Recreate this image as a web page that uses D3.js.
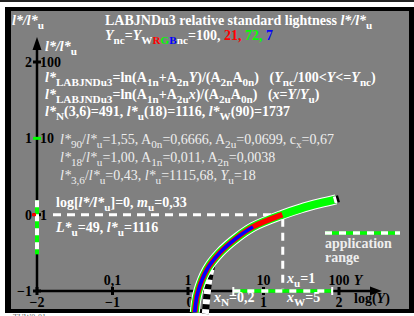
<!DOCTYPE html>
<html>
<head>
<meta charset="utf-8">
<script src="https://cdn.jsdelivr.net/npm/d3@7"></script>
<style>
  body { margin: 0; background: #fff; }
  svg { display: block; }
  text { font-family: "Liberation Serif", "Times New Roman", serif; white-space: pre; }
</style>
</head>
<body>
<svg id="chart" width="414" height="316"></svg>
<script>
// tick values (log units) and their labels
const xLogTicks = [-2, -1, 0, 1, 2];
const xLogLabels = ["\u22122", "\u22121", "0", "1", "2"];
const xLinTicks = [-1, 0, 1, 2];
const xLinLabels = ["0,1", "1", "10", "100"];
const yLogTicks = [2, 1, 0, -1];
const yLogLabels = ["2", "1", "0", "\u22121"];
const yLinTicks = [2, 1, 0];
const yLinLabels = ["100", "10", "1"];

// curve: [log(Y), log(l*/l*u)]
const curve = [[0.09, -1.28], [0.13, -1.02], [0.25, -0.72], [0.42, -0.5], [0.65, -0.3],
  [0.86, -0.16], [1.25, 0.0], [1.49, 0.08], [1.75, 0.15], [1.96, 0.2]];
const curveN = [[0.33, -0.59], [0.27, -0.9], [0.23, -1.3]];   // black/white dashed, low part
const curveTop = [[1.93, 0.19], [2.0, 0.21]];                  // black/white end
const blueEnd = 0.86, redEnd = 1.28;

const appRangeX = [0.6, 1.91];     // application range on log(Y)
const appRangeY = [0.19, -0.52];   // on log(l*/l*u)
const refPoint = [1.255, 0];       // Yu = 18, log[l*/l*u] = 0

const svg = d3.select("#chart");
const x = d3.scaleLinear().domain([-2, 2]).range([37, 339]);
const y = d3.scaleLinear().domain([-1, 2]).range([291, 62]);

// frame
svg.append("rect").attr("x", 0).attr("y", 0).attr("width", 414).attr("height", 2).attr("fill", "#222");
svg.append("rect").attr("x", 5).attr("y", 7).attr("width", 409).attr("height", 306).attr("fill", "#000");
svg.append("rect").attr("x", 11).attr("y", 11).attr("width", 398).attr("height", 298).attr("fill", "#808080");
svg.append("text").attr("x", 13).attr("y", 320).attr("font-size", 8).attr("fill", "#666").text("TUW0-01");

// text with sub-scripts: segs = [text, style("i","s"), colour]
function rich(x0, y0, segs, size, bold, fill) {
  const t = svg.append("text").attr("x", x0).attr("y", y0)
    .attr("font-size", size).attr("font-weight", bold ? "bold" : "normal")
    .attr("fill", fill || "#fff");
  let shift = 0;
  segs.forEach(([s, st = "", col]) => {
    const sub = st.includes("s");
    const target = sub ? size * 0.3 : 0;
    const ts = t.append("tspan").text(s).attr("dy", target - shift);
    shift = target;
    if (sub) ts.attr("font-size", size * 0.8);
    if (st.includes("i")) ts.attr("font-style", "italic");
    if (col) ts.attr("fill", col);
  });
  return t;
}

// titles and formulas
rich(12, 25, [["l*/l*", "i"], ["u", "s"]], 14, true);
rich(105, 25, [["LABJNDu3 relative standard lightness "], ["l*/l*", "i"], ["u", "s"]], 14, true);
rich(105, 40, [["Y", "i"], ["nc", "s"], ["="], ["Y", "i"], ["W", "s"], ["R", "s", "#f00"], ["G", "s", "#0f0"],
  ["B", "s", "#00f"], ["nc", "s"], ["=100, "], ["21, ", "", "#f00"], ["72, ", "", "#0f0"], ["7", "", "#00f"]], 14, true);
rich(45, 51, [["l*/l*", "i"], ["u", "s"]], 14, true);

rich(45, 82, [["l*", "i"], ["LABJNDu3", "s"], ["=ln(A"], ["1n", "s"], ["+A"], ["2n", "s"], ["Y", "i"], [")/(A"],
  ["2n", "s"], ["A"], ["0n", "s"], [")   ("], ["Y", "i"], ["nc", "s"], ["/100<"], ["Y", "i"], ["<="], ["Y", "i"], ["nc", "s"], [")"]], 14, true);
rich(45, 99, [["l*", "i"], ["LABJNDu3", "s"], ["=ln(A"], ["1n", "s"], ["+A"], ["2u", "s"], ["x", "i"], [")/(A"],
  ["2u", "s"], ["A"], ["0n", "s"], [")   ("], ["x", "i"], ["="], ["Y", "i"], ["/"], ["Y", "i"], ["u", "s"], [")"]], 14, true);
rich(45, 116, [["l*", "i"], ["N", "s"], ["(3,6)=491, "], ["l*", "i"], ["u", "s"], ["(18)=1116, "], ["l*", "i"], ["W", "s"], ["(90)=1737"]], 14, true);

rich(60, 144, [["l*", "i"], ["90", "s"], ["/"], ["l*", "i"], ["u", "s"], ["=1,55, A"], ["0n", "s"], ["=0,6666, A"],
  ["2u", "s"], ["=0,0699, c"], ["x", "s"], ["=0,67"]], 14, false, "#eee");
rich(60, 162, [["l*", "i"], ["18", "s"], ["/"], ["l*", "i"], ["u", "s"], ["=1,00, A"], ["1n", "s"], ["=0,011, A"],
  ["2n", "s"], ["=0,0038"]], 14, false, "#eee");
rich(60, 180, [["l*", "i"], ["3,6", "s"], ["/"], ["l*", "i"], ["u", "s"], ["=0,43, "], ["l*", "i"], ["u", "s"],
  ["=1115,68, "], ["Y", "i"], ["u", "s"], ["=18"]], 14, false, "#eee");

rich(56, 207, [["log["], ["l*/l*", "i"], ["u", "s"], ["]=0, "], ["m", "i"], ["u", "s"], ["=0,33"]], 14, true);
rich(56, 232, [["L*", "i"], ["u", "s"], ["=49, "], ["l*", "i"], ["u", "s"], ["=1116"]], 14, true);

// reference dashed lines
svg.append("line").attr("x1", 53).attr("x2", x(refPoint[0])).attr("y1", y(refPoint[1])).attr("y2", y(refPoint[1]))
  .attr("stroke", "#fff").attr("stroke-width", 3).attr("stroke-dasharray", "8,6");
svg.append("line").attr("x1", x(refPoint[0])).attr("x2", x(refPoint[0])).attr("y1", y(refPoint[1]) + 4).attr("y2", y(-1))
  .attr("stroke", "#fff").attr("stroke-width", 3).attr("stroke-dasharray", "8,6");

// axes
svg.append("line").attr("x1", x(-2)).attr("x2", 372).attr("y1", y(-1)).attr("y2", y(-1)).attr("stroke", "#000").attr("stroke-width", 2.5);
svg.append("path").attr("d", `M382,${y(-1)} L370,${y(-1) - 4.5} L370,${y(-1) + 4.5} Z`).attr("fill", "#000");
svg.append("line").attr("x1", x(-2)).attr("x2", x(-2)).attr("y1", y(-1)).attr("y2", 48).attr("stroke", "#000").attr("stroke-width", 2.5);
svg.append("path").attr("d", `M${x(-2)},37 L${x(-2) - 4.5},50 L${x(-2) + 4.5},50 Z`).attr("fill", "#000");

svg.selectAll(".xt").data(xLogTicks).enter().append("line")
  .attr("x1", d => x(d)).attr("x2", d => x(d)).attr("y1", y(-1) - 4).attr("y2", y(-1) + 4)
  .attr("stroke", "#000").attr("stroke-width", 3);
svg.selectAll(".yt").data(yLogTicks).enter().append("line")
  .attr("y1", d => y(d)).attr("y2", d => y(d)).attr("x1", x(-2) - 4).attr("x2", x(-2) + 4)
  .attr("stroke", d => d === 1 ? "#0f0" : "#000").attr("stroke-width", 3);

const lab = { "font-size": 14, "font-weight": "bold", "fill": "#000", "text-anchor": "middle" };
function label(xx, yy, s, anchor) {
  const t = svg.append("text").attr("x", xx).attr("y", yy).text(s);
  Object.entries(lab).forEach(([k, v]) => t.attr(k, v));
  if (anchor) t.attr("text-anchor", anchor);
  return t;
}
xLogTicks.forEach((d, i) => label(x(d) + (d === 0 ? 2 : 0), 307, xLogLabels[i]));
xLinTicks.forEach((d, i) => label(x(d), 285, xLinLabels[i]));
yLogTicks.forEach((d, i) => label(32, y(d) + 5, yLogLabels[i], "end"));
yLinTicks.forEach((d, i) => label(40, y(d) + 5, yLinLabels[i], "start"));
label(358, 285, "Y").attr("font-style", "italic");
rich(354, 303, [["log("], ["Y", "i"], [")"]], 14, true, "#000");

// application range on axes
function dashedRange(x1, y1, x2, y2, w) {
  svg.append("line").attr("x1", x1).attr("x2", x2).attr("y1", y1).attr("y2", y2).attr("stroke", "#0f0").attr("stroke-width", w);
  svg.append("line").attr("x1", x1).attr("x2", x2).attr("y1", y1).attr("y2", y2).attr("stroke", "#fff").attr("stroke-width", w)
    .attr("stroke-dasharray", "7,7");
}
dashedRange(x(appRangeX[0]), y(-1), x(appRangeX[1]), y(-1), 3.5);
appRangeX.forEach(d => svg.append("line").attr("x1", x(d)).attr("x2", x(d)).attr("y1", y(-1) - 4).attr("y2", y(-1) + 4)
  .attr("stroke", "#fff").attr("stroke-width", 2));
dashedRange(x(-2), y(appRangeY[0]), x(-2), y(appRangeY[1]), 4);
svg.append("line").attr("x1", x(-2) - 5).attr("x2", x(-2) - 1).attr("y1", y(0)).attr("y2", y(0)).attr("stroke", "#f00").attr("stroke-width", 3);

// legend
dashedRange(325, 233, 400, 233, 3.5);
rich(325, 248, [["application"]], 14, true, "#eee");
rich(325, 262, [["range"]], 14, true, "#eee");

// curves
const lineY = d3.line().x(d => x(d[0])).y(d => y(d[1])).curve(d3.curveCatmullRom);
svg.append("path").attr("d", lineY(curveN)).attr("fill", "none").attr("stroke", "#000").attr("stroke-width", 7);
svg.append("path").attr("d", lineY(curveN)).attr("fill", "none").attr("stroke", "#fff").attr("stroke-width", 7).attr("stroke-dasharray", "5,5");

const band = (data, col, w) => svg.append("path").attr("d", lineY(data)).attr("fill", "none")
  .attr("stroke", col).attr("stroke-width", w).attr("stroke-linecap", "butt");
band(curve, "#fff", 10);
band(curve, "#0f0", 8);
band(curve.filter(d => d[0] <= redEnd + 0.01), "#f00", 5.5);
band(curve.filter(d => d[0] <= blueEnd + 0.01), "#00f", 3.5);
band(curveTop, "#000", 7);
svg.append("path").attr("d", lineY(curveTop)).attr("fill", "none").attr("stroke", "#fff").attr("stroke-width", 7).attr("stroke-dasharray", "3,4");

// x annotations (on top of the curves)
rich(287, 283, [["x", "i"], ["u", "s"], ["=1"]], 14, true);
rich(214, 302, [["x", "i"], ["N", "s"], ["=0,2"]], 14, true);
rich(287, 302, [["x", "i"], ["W", "s"], ["=5"]], 14, true);
</script>
</body>
</html>
